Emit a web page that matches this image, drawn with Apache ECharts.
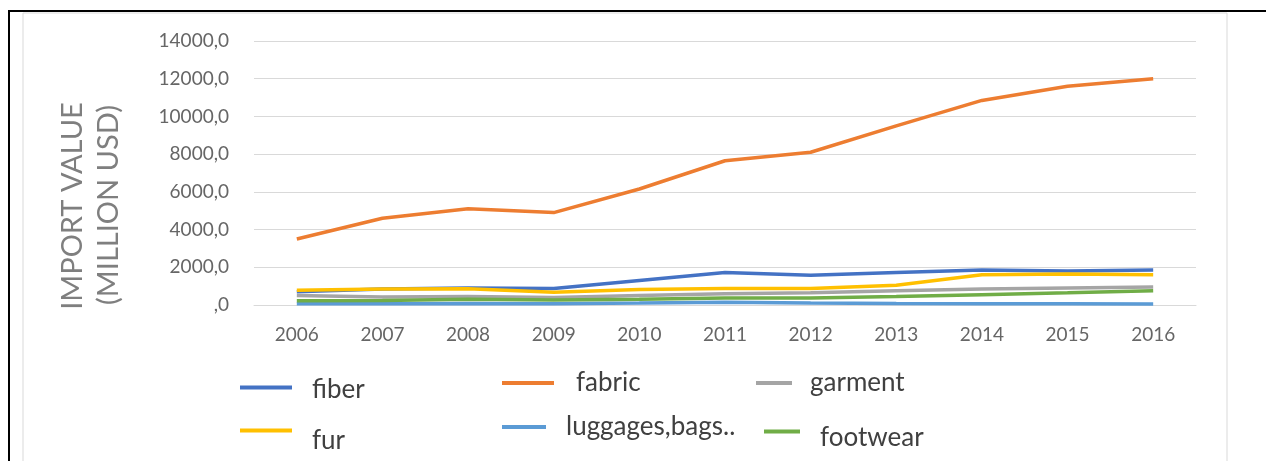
<!DOCTYPE html>
<html><head><meta charset="utf-8">
<script src="https://cdn.jsdelivr.net/npm/echarts@6/dist/echarts.min.js"></script>
<style>html,body{margin:0;padding:0;background:#fff}#c{width:1266px;height:461px}</style>
</head><body><div id="c"></div>
<script>
const years = ['2006','2007','2008','2009','2010','2011','2012','2013','2014','2015','2016'];
const fiber    = [700, 850, 900, 880, 1300, 1720, 1580, 1720, 1850, 1800, 1850];
const fabric   = [3500, 4600, 5100, 4900, 6150, 7650, 8100, 9500, 10850, 11600, 12000];
const garment  = [500, 420, 450, 400, 500, 600, 650, 750, 850, 900, 950];
const fur      = [780, 850, 860, 680, 820, 880, 880, 1050, 1600, 1650, 1600];
const luggage  = [60, 70, 80, 70, 100, 150, 110, 80, 60, 60, 50];
const footwear = [230, 240, 300, 260, 300, 370, 370, 450, 550, 650, 760];
const seriesNames = ['fiber','fabric','garment','fur','luggages,bags..','footwear'];
const seriesData = [fiber, fabric, garment, fur, luggage, footwear];
const yTitle = ['IMPORT VALUE', '(MILLION USD)'];
const colors = ['#4472C4','#ED7D31','#A5A5A5','#FFC000','#5B9BD5','#70AD47'];
// layout: [iconLeft, iconWidth, lineY, textShiftDown*2, textPadLeft]
const legendLayout = [
  [240, 52, 387, 4, 15],
  [502, 52, 385, 0, 17],
  [756, 36, 385, 0, 13],
  [240, 52, 430, 20, 15],
  [502, 44, 429, 0, 15],
  [764, 36, 431, 12, 15]
];
const FONT = 'Lato, sans-serif';
const LH = 30;

const chart = echarts.init(document.getElementById('c'), null, {renderer:'canvas'});
const legends = seriesNames.map((n,i)=>{
  const [lx, w, ly, pt, pl] = legendLayout[i];
  return {
    data:[n], left:lx, top: ly - LH/2, icon:'rect', padding:0,
    itemWidth:w, itemHeight:4, itemGap:0, selectedMode:false,
    formatter: name => pt > 0 ? '{s|}\n{t|' + name + '}' : '{t|' + name + '}',
    textStyle:{fontFamily:FONT, fontSize:26, color:'#404040',
      rich:{s:{fontSize:1, lineHeight:pt, width:1}, t:{fontFamily:FONT, fontSize:26, color:'#404040', lineHeight:LH, padding:[0,0,0,pl]}}}
  };
});
chart.setOption({
  animation:false,
  backgroundColor:'#fff',
  color: colors,
  grid:{left:254, right:70, top:41, bottom:156},
  legend: legends,
  xAxis:{type:'category', data:years, boundaryGap:true,
    axisLine:{lineStyle:{color:'#d9d9d9'}}, axisTick:{show:false},
    axisLabel:{color:'#666', fontFamily:FONT, fontSize:19, margin:20}},
  yAxis:{type:'value', min:0, max:14000, interval:2000,
    axisLine:{show:false}, axisTick:{show:false},
    splitLine:{lineStyle:{color:'#d9d9d9'}},
    axisLabel:{color:'#666', fontFamily:FONT, fontSize:19, margin:25,
      formatter:v=> v===0 ? ',0' : v+',0'}},
  series: seriesNames.map((n,i)=>({name:n, type:'line', data:seriesData[i], symbol:'none',
    lineStyle:{width:3.5, color:colors[i]}, itemStyle:{color:colors[i]}})),
  graphic:[
    {type:'rect', shape:{x:23, y:13, width:1204, height:460}, style:{fill:'none', stroke:'#d9d9d9', lineWidth:1}, silent:true},
    {type:'line', shape:{x1:8, y1:11, x2:1266, y2:11}, style:{stroke:'#000', lineWidth:2}, silent:true},
    {type:'line', shape:{x1:9, y1:10, x2:9, y2:461}, style:{stroke:'#000', lineWidth:2}, silent:true},
    {type:'text', x:73, y:206, rotation:Math.PI/2, silent:true,
      style:{text:yTitle[0], fontFamily:FONT, fontSize:29, fill:'#7f7f7f', textAlign:'center', textVerticalAlign:'middle'}},
    {type:'text', x:109, y:205, rotation:Math.PI/2, silent:true,
      style:{text:yTitle[1], fontFamily:FONT, fontSize:29, fill:'#7f7f7f', textAlign:'center', textVerticalAlign:'middle'}}
  ]
});
</script></body></html>
